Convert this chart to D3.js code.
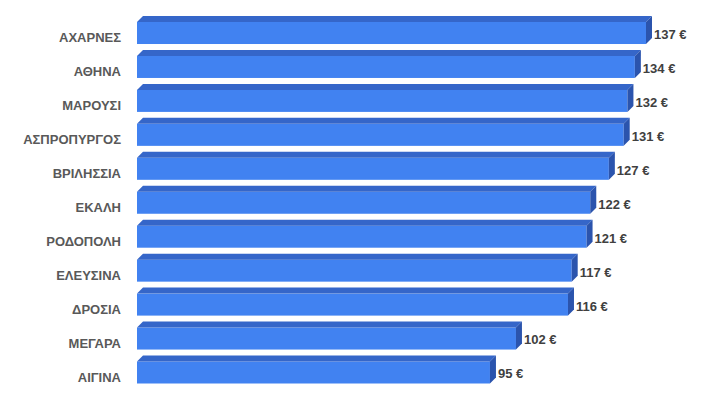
<!DOCTYPE html>
<html>
<head>
<meta charset="utf-8">
<script src="https://cdn.jsdelivr.net/npm/d3@7"></script>
<style>
  html, body { margin: 0; padding: 0; background: #fff; }
  svg { display: block; }
</style>
</head>
<body>
<svg id="chart" width="710" height="410"></svg>
<script>
const categories = ["ΑΧΑΡΝΕΣ", "ΑΘΗΝΑ", "ΜΑΡΟΥΣΙ", "ΑΣΠΡΟΠΥΡΓΟΣ", "ΒΡΙΛΗΣΣΙΑ", "ΕΚΑΛΗ", "ΡΟΔΟΠΟΛΗ", "ΕΛΕΥΣΙΝΑ", "ΔΡΟΣΙΑ", "ΜΕΓΑΡΑ", "ΑΙΓΙΝΑ"];
const values = [137, 134, 132, 131, 127, 122, 121, 117, 116, 102, 95];
const valueLabels = values.map(v => v + " €");

const svg = d3.select("#chart");
const depth = 6;

const x = d3.scaleLinear().domain([0, 137]).range([137, 646]);
const y = d3.scaleBand().domain(categories).range([16, 383.5]).paddingInner(0.175).paddingOuter(0);

const colFront = "#4182f1";
const colTop = "#3566c9";
const colSide = "#2b54ad";

const g = svg.append("g");
const rows = g.selectAll("g.row").data(categories.map((c, i) => ({c, v: values[i], l: valueLabels[i]})))
  .enter().append("g").attr("class", "row");

rows.each(function(d) {
  const sel = d3.select(this);
  const y0 = y(d.c) + depth;      // front top
  const h = y.bandwidth() - depth; // front height
  const x0 = x(0), x1 = x(d.v);
  sel.append("rect").attr("x", x0).attr("y", y0).attr("width", x1 - x0).attr("height", h).attr("fill", colFront);
  sel.append("path").attr("d", `M${x0},${y0} L${x0 + depth},${y0 - depth} L${x1 + depth},${y0 - depth} L${x1},${y0} Z`).attr("fill", colTop);
  sel.append("path").attr("d", `M${x1},${y0} L${x1 + depth},${y0 - depth} L${x1 + depth},${y0 + h - depth} L${x1},${y0 + h} Z`).attr("fill", colSide);
  sel.append("text").attr("x", x1 + depth + 2).attr("y", y0 + h / 2 + 2.5)
    .attr("dominant-baseline", "middle")
    .attr("font-family", "Liberation Sans, Arial, sans-serif").attr("font-weight", "bold").attr("font-size", 13)
    .attr("fill", "#404040").text(d.l);
  sel.append("text").attr("x", 121).attr("y", y0 + h / 2 + 6)
    .attr("dominant-baseline", "middle").attr("text-anchor", "end")
    .attr("font-family", "Liberation Sans, Arial, sans-serif").attr("font-weight", "bold").attr("font-size", 13)
    .attr("fill", "#595959").text(d.c);
});
</script>
</body>
</html>
